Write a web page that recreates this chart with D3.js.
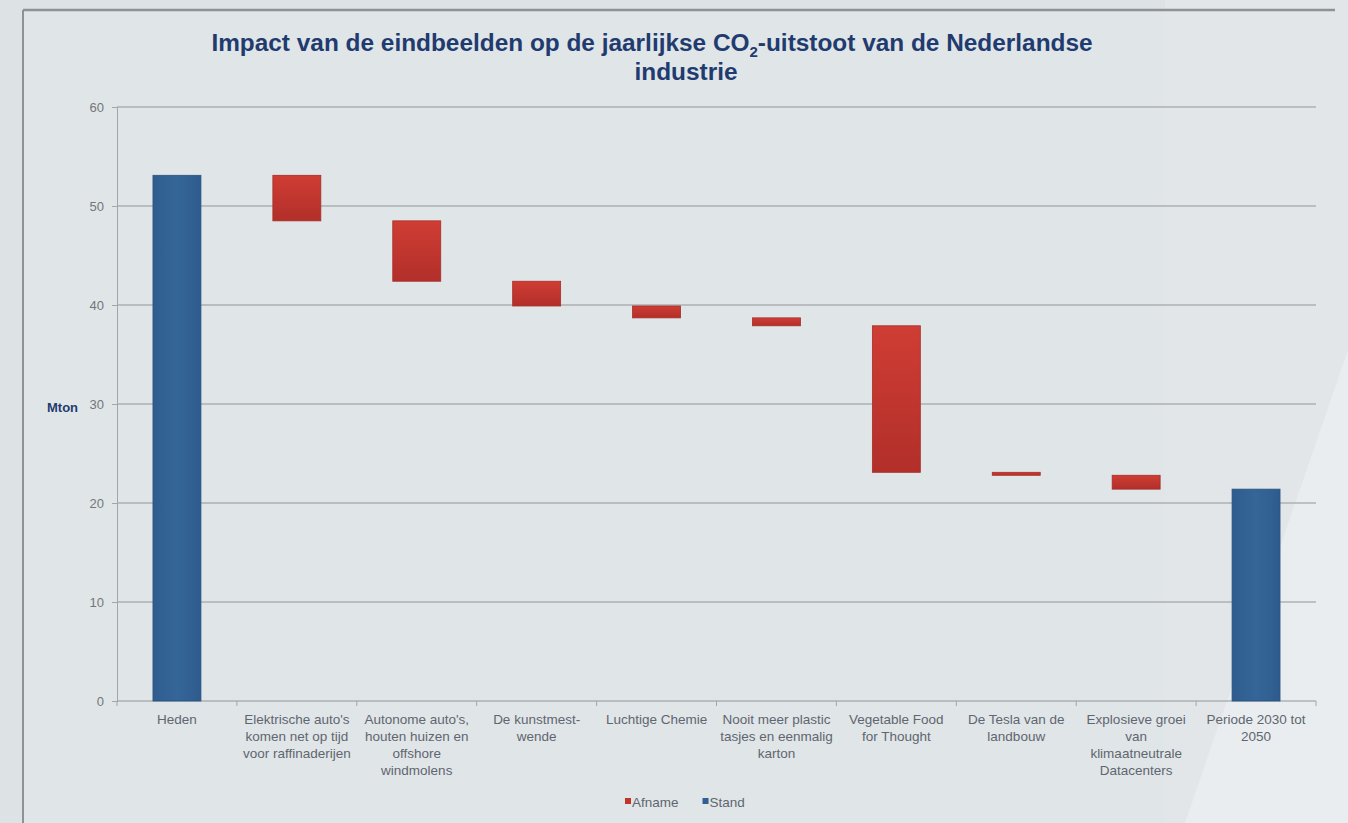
<!DOCTYPE html>
<html>
<head>
<meta charset="utf-8">
<script src="https://cdn.jsdelivr.net/npm/d3@7"></script>
<style>
  html, body { margin: 0; padding: 0; background: #dfe4e6; }
  svg { display: block; font-family: "Liberation Sans", Arial, sans-serif; }
</style>
</head>
<body>
<svg id="chart" width="1348" height="823"></svg>
<script>
// Categories (each label split into its printed lines)
const categories = [
  "Heden",
  "Elektrische auto's\nkomen net op tijd\nvoor raffinaderijen",
  "Autonome auto's,\nhouten huizen en\noffshore\nwindmolens",
  "De kunstmest-\nwende",
  "Luchtige Chemie",
  "Nooit meer plastic\ntasjes en eenmalig\nkarton",
  "Vegetable Food\nfor Thought",
  "De Tesla van de\nlandbouw",
  "Explosieve groei\nvan\nklimaatneutrale\nDatacenters",
  "Periode 2030 tot\n2050"
];
// Starting level (Mton) and the decrease of each end-image
const startLevel = 53.1;
const decreases = [4.6, 6.1, 2.5, 1.2, 0.8, 14.8, 0.3, 1.4];
const yTicks = [0, 10, 20, 30, 40, 50, 60];
const legendItems = [
  { key: "Afname", color: "#c0342c" },
  { key: "Stand", color: "#2f5f93" }
];

// Build the waterfall segments
const segments = [];
let level = startLevel;
segments.push({ cat: categories[0], y0: 0, y1: level, type: "Stand" });
decreases.forEach((d, i) => {
  segments.push({ cat: categories[i + 1], y0: level - d, y1: level, type: "Afname" });
  level -= d;
});
segments.push({ cat: categories[categories.length - 1], y0: 0, y1: level, type: "Stand" });

const svg = d3.select("#chart");
const W = 1348, H = 823;

// Gradients for the bars
const defs = svg.append("defs");
const redGrad = defs.append("linearGradient").attr("id", "redGrad")
  .attr("x1", 0).attr("y1", 0).attr("x2", 0).attr("y2", 1);
redGrad.append("stop").attr("offset", "0%").attr("stop-color", "#cf3d34");
redGrad.append("stop").attr("offset", "100%").attr("stop-color", "#b22f2a");
const blueGrad = defs.append("linearGradient").attr("id", "blueGrad")
  .attr("x1", 0).attr("y1", 0).attr("x2", 1).attr("y2", 0);
blueGrad.append("stop").attr("offset", "0%").attr("stop-color", "#2f5c8f");
blueGrad.append("stop").attr("offset", "50%").attr("stop-color", "#356698");
blueGrad.append("stop").attr("offset", "100%").attr("stop-color", "#2e5b8d");

// Backdrop shading
svg.append("rect").attr("width", W).attr("height", H).attr("fill", "#dde2e4");
svg.append("rect").attr("x", 24).attr("y", 10).attr("width", W - 24).attr("height", H - 10)
  .attr("fill", "#e0e5e7");
svg.append("path").attr("d", "M1165,0 L1348,0 L1348,823 L1165,823 Z").attr("fill", "#e2e6e8");
svg.append("path").attr("d", "M1348,350 L1348,823 L1185,823 Z").attr("fill", "#e9edef");

// Frame lines
svg.append("line").attr("x1", 23).attr("x2", 1335).attr("y1", 10).attr("y2", 10)
  .attr("stroke", "#8e9294").attr("stroke-width", 2.5);
svg.append("line").attr("x1", 23).attr("x2", 23).attr("y1", 10).attr("y2", H)
  .attr("stroke", "#8e9294").attr("stroke-width", 2);

const margin = { left: 117, right: 1316, top: 107, bottom: 701 };

const x = d3.scaleBand().domain(categories).range([margin.left, margin.right]).paddingInner(0.6).paddingOuter(0.3);
const y = d3.scaleLinear().domain([0, 60]).range([margin.bottom, margin.top]);

// Gridlines
svg.append("g").selectAll("line").data(yTicks.filter(t => t > 0)).join("line")
  .attr("x1", margin.left).attr("x2", margin.right)
  .attr("y1", d => y(d)).attr("y2", d => y(d))
  .attr("stroke", "#939699").attr("stroke-width", 1.2);

// Y axis
const yAxis = svg.append("g").attr("transform", `translate(${margin.left},0)`)
  .call(d3.axisLeft(y).tickValues(yTicks).tickSize(5).tickPadding(8));
yAxis.select(".domain").attr("stroke", "#a3a6a8");
yAxis.selectAll(".tick line").attr("stroke", "#a3a6a8");
yAxis.selectAll("text").attr("fill", "#74777a").attr("font-size", 13);

// X axis: baseline plus ticks at category boundaries
svg.append("line").attr("x1", margin.left).attr("x2", margin.right)
  .attr("y1", y(0)).attr("y2", y(0)).attr("stroke", "#939699").attr("stroke-width", 1.2);
const bounds = d3.range(categories.length + 1).map(i => margin.left + i * (margin.right - margin.left) / categories.length);
svg.append("g").selectAll("line").data(bounds).join("line")
  .attr("x1", d => d).attr("x2", d => d)
  .attr("y1", y(0)).attr("y2", y(0) + 5)
  .attr("stroke", "#a3a6a8");

// Category labels
const xl = svg.append("g").selectAll("text").data(categories).join("text")
  .attr("x", d => x(d) + x.bandwidth() / 2)
  .attr("y", 724)
  .attr("text-anchor", "middle")
  .attr("font-size", 13.5)
  .attr("fill", "#5f6670");
xl.each(function(d) {
  const t = d3.select(this);
  d.split("\n").forEach((line, i) => {
    t.append("tspan").attr("x", x(d) + x.bandwidth() / 2).attr("dy", i === 0 ? 0 : 16.9).text(line);
  });
});

// Bars
svg.append("g").selectAll("rect").data(segments).join("rect")
  .attr("x", d => x(d.cat))
  .attr("width", x.bandwidth())
  .attr("y", d => y(d.y1))
  .attr("height", d => y(d.y0) - y(d.y1))
  .attr("fill", d => d.type === "Stand" ? "url(#blueGrad)" : "url(#redGrad)")
  .attr("stroke", d => d.type === "Stand" ? "#2a527f" : "#a62c27")
  .attr("stroke-width", 0.8);

// Title
const title = svg.append("text").attr("x", 652).attr("y", 51)
  .attr("text-anchor", "middle").attr("font-size", 24.4).attr("font-weight", "bold")
  .attr("fill", "#1f3b6f");
title.append("tspan").text("Impact van de eindbeelden op de jaarlijkse CO");
title.append("tspan").attr("font-size", 15).attr("dy", 6).text("2");
title.append("tspan").attr("dy", -6).text("-uitstoot van de Nederlandse");
svg.append("text").attr("x", 686).attr("y", 80)
  .attr("text-anchor", "middle").attr("font-size", 24.4).attr("font-weight", "bold")
  .attr("fill", "#1f3b6f").text("industrie");

// Y axis title
svg.append("text").attr("x", 47).attr("y", 412)
  .attr("font-size", 13).attr("font-weight", "bold").attr("fill", "#1f3b6f").text("Mton");

// Legend
const legend = svg.append("g").attr("transform", "translate(625,807)");
let lx = 0;
legendItems.forEach(item => {
  legend.append("rect").attr("x", lx).attr("y", -9).attr("width", 6).attr("height", 6).attr("fill", item.color);
  const t = legend.append("text").attr("x", lx + 7).attr("y", 0)
    .attr("font-size", 13.5).attr("fill", "#5f6670").text(item.key);
  lx += 7 + t.node().getComputedTextLength() + 24;
});
</script>
</body>
</html>
